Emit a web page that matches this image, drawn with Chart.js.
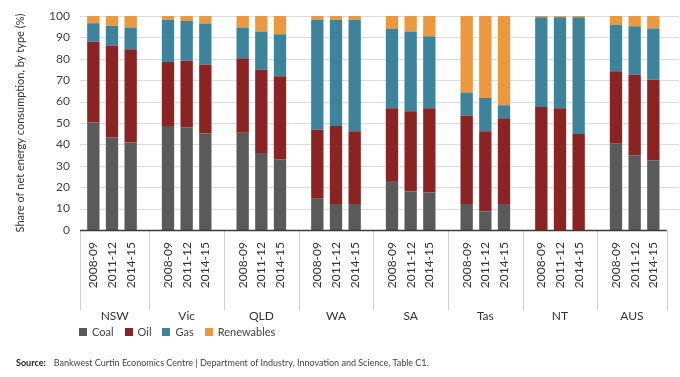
<!DOCTYPE html>
<html>
<head>
<meta charset="utf-8">
<script src="https://cdn.jsdelivr.net/npm/chart.js@4.4.1/dist/chart.umd.min.js"></script>
<style>
  html, body { margin: 0; padding: 0; background: #fff; }
  .wrap { position: relative; width: 680px; height: 377px; font-family: Lato, 'Open Sans', sans-serif; }
  canvas { position: absolute; left: 0; top: 0; }
  .legend { position: absolute; left: 79px; top: 325px; display: flex; font-size: 11px; color: #444; }
  .legend .item { display: flex; align-items: center; margin-right: 11px; }
  .legend i { width: 8px; height: 8px; margin-right: 5px; display: inline-block; }
  .source { position: absolute; left: 16px; top: 357px; font-size: 9px; color: #444; white-space: nowrap; }
  .source b { color: #222; margin-right: 8px; }
</style>
</head>
<body>
<div class="wrap">
  <canvas id="chart" width="680" height="377"></canvas>
  <div class="legend" id="legend"></div>
  <div class="source"><b>Source:</b>Bankwest Curtin Economics Centre | Department of Industry, Innovation and Science, Table C1.</div>
</div>
<script>
const regions = ['NSW', 'Vic', 'QLD', 'WA', 'SA', 'Tas', 'NT', 'AUS'];
const periods = ['2008-09', '2011-12', '2014-15'];

// share of net energy consumption (%), three periods per region, regions in order above
const coal = [50.2, 43.2, 40.9,  48.6, 48.0, 45.1,  45.5, 36.0, 33.1,  14.6, 12.2, 12.2,
              22.9, 18.0, 17.5,  12.2, 8.6, 12.2,   0, 0, 0,           40.3, 34.9, 32.6];
const oil = [37.8, 43.0, 43.6,  29.9, 31.1, 32.1,  34.8, 38.9, 38.7,  32.2, 36.4, 34.0,
             34.0, 37.5, 39.4,  41.2, 37.6, 40.0,  57.5, 56.9, 44.9,  33.9, 37.6, 37.6];
const gas = [8.6, 9.2, 10.1,    19.8, 18.6, 19.3,  14.3, 17.9, 19.7,  51.5, 49.6, 52.0,
             37.1, 37.3, 33.6,  10.8, 15.5, 6.1,   41.9, 42.5, 54.5,  21.6, 22.7, 24.0];
const renewables = [3.4, 4.6, 5.4,  1.7, 2.3, 3.5,  5.4, 7.2, 8.5,  1.7, 1.8, 1.8,
                    6.0, 7.2, 9.5,  35.8, 38.3, 41.7,  0.6, 0.6, 0.6,  4.2, 4.8, 5.8];

const seriesNames = ['Coal', 'Oil', 'Gas', 'Renewables'];
const seriesValues = [coal, oil, gas, renewables];
const seriesColors = ['#5a5a5a', '#8b2323', '#3b849b', '#ec983c'];

// one slot per bar and an empty slot between regions
const labels = [];
regions.forEach((r, i) => {
  periods.forEach((p) => labels.push(p));
  if (i < regions.length - 1) labels.push('');
});

function spread(values) {
  const out = [];
  regions.forEach((r, i) => {
    for (let j = 0; j < periods.length; j++) out.push(values[i * periods.length + j]);
    if (i < regions.length - 1) out.push(null);
  });
  return out;
}

const groupPlugin = {
  id: 'groups',
  beforeDatasetsDraw(chart) {
    const { ctx, chartArea, scales: { y } } = chart;
    ctx.save();
    ctx.strokeStyle = '#dddddd';
    ctx.lineWidth = 1;
    y.ticks.forEach((t) => {
      if (t.value === 0) return;
      const py = Math.round(y.getPixelForValue(t.value)) + 0.5;
      ctx.beginPath();
      ctx.moveTo(chartArea.left - 4, py);
      ctx.lineTo(chart.width - 1, py);
      ctx.stroke();
    });
    ctx.restore();
  },
  afterDatasetsDraw(chart) {
    const { ctx, chartArea, scales: { x, y } } = chart;
    const step = periods.length + 1;
    const edges = [chartArea.left - 4];
    for (let i = 1; i < regions.length; i++) edges.push(x.getPixelForValue(i * step - 1));
    edges.push(chartArea.right + 4);
    const base = Math.round(y.getPixelForValue(0));

    ctx.save();
    ctx.strokeStyle = '#d0d0d0';
    ctx.lineWidth = 1;
    edges.forEach((e) => {
      const px = Math.round(e) + 0.5;
      ctx.beginPath();
      ctx.moveTo(px, base);
      ctx.lineTo(px, base + 80);
      ctx.stroke();
    });

    ctx.strokeStyle = '#3a3a3a';
    ctx.lineWidth = 1.5;
    ctx.beginPath();
    ctx.moveTo(edges[0], base + 0.5);
    ctx.lineTo(edges[edges.length - 1], base + 0.5);
    ctx.stroke();

    ctx.fillStyle = '#333';
    ctx.font = '12px Lato';
    ctx.textAlign = 'center';
    ctx.textBaseline = 'middle';
    regions.forEach((r, i) => {
      ctx.fillText(r, (edges[i] + edges[i + 1]) / 2, base + 86);
    });
    ctx.restore();
  },
};

new Chart(document.getElementById('chart'), {
  type: 'bar',
  data: {
    labels: labels,
    datasets: seriesNames.map((name, i) => ({
      label: name,
      data: spread(seriesValues[i]),
      backgroundColor: seriesColors[i],
      barPercentage: 0.66,
      categoryPercentage: 1,
    })),
  },
  options: {
    responsive: false,
    animation: false,
    layout: { padding: { top: 16, right: 17, bottom: 67, left: 0 } },
    plugins: { legend: { display: false }, tooltip: { enabled: false } },
    scales: {
      x: {
        stacked: true,
        grid: { display: false, drawTicks: false },
        border: { display: false },
        ticks: {
          autoSkip: false, minRotation: 90, maxRotation: 90, padding: 12,
          color: '#333', font: { family: 'Lato', size: 12 },
        },
        afterFit(scale) { scale.height = 80; },
      },
      y: {
        stacked: true,
        min: 0,
        max: 100,
        grid: { display: false, drawTicks: false },
        border: { display: false },
        ticks: { stepSize: 10, padding: 14, color: '#444', font: { family: 'Lato', size: 12 } },
        title: {
          display: true,
          text: 'Share of net energy consumption, by type (%)',
          color: '#333',
          font: { family: 'Lato', size: 11 },
          padding: { top: 14, bottom: 0 },
        },
        afterFit(scale) {
          // tick padding would otherwise push the plot top down
          scale.width = 84;
          scale.paddingTop = 8;
          scale.paddingBottom = 8;
        },
      },
    },
  },
  plugins: [groupPlugin],
});

const legend = document.getElementById('legend');
seriesNames.forEach((name, i) => {
  const item = document.createElement('span');
  item.className = 'item';
  item.innerHTML = '<i style="background:' + seriesColors[i] + '"></i>' + name;
  legend.appendChild(item);
});
</script>
</body>
</html>
